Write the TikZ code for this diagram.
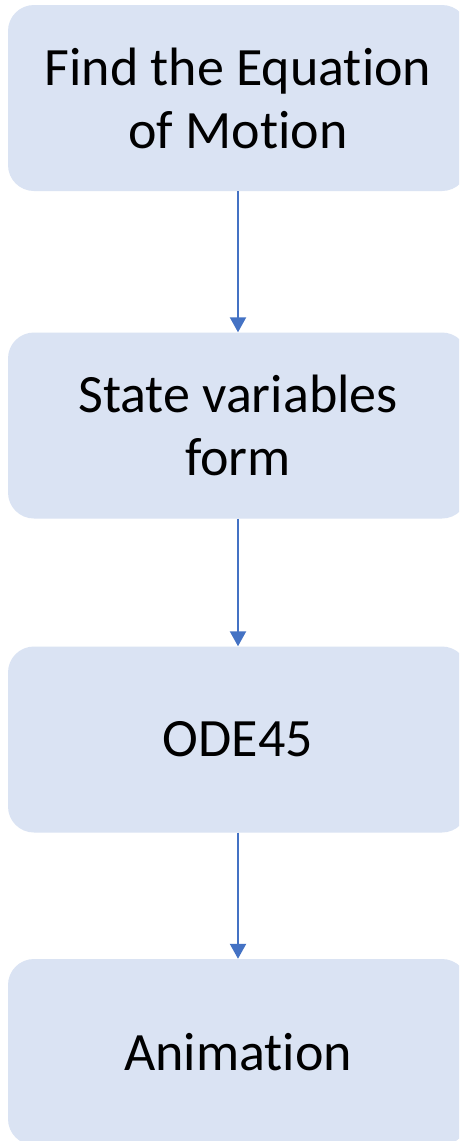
\documentclass[tikz,border=0pt]{standalone}
\usepackage{fontspec}
\setmainfont[Ligatures={NoCommon,NoRare,NoDiscretionary}]{Carlito}
\usetikzlibrary{arrows.meta}
\definecolor{boxfill}{HTML}{DAE3F3}
\definecolor{arrowblue}{HTML}{4472C4}
\begin{document}
\begin{tikzpicture}[x=1pt,y=-1pt,
  stepbox/.style={fill=boxfill, draw=none, rounded corners=26pt, minimum width=460pt, minimum height=186pt, align=center, font=\fontsize{54}{63}\selectfont, inner sep=0pt},
  flow/.style={draw=arrowblue, line width=2.2pt, -{Triangle[width=16pt,length=15pt]}}]
\useasboundingbox (0,0) rectangle (459,1141);
\clip (0,0) rectangle (459,1141);
\fill[white] (0,0) rectangle (459,1141);
\node[stepbox] (a) at (238,98) {Find the Equation\\of Motion};
\node[stepbox] (b) at (238,425.5) {State variables\\form};
\node[stepbox] (c) at (238,739.5) {ODE45};
\node[stepbox] (d) at (238,1052) {Animation};
\draw[flow] (a.south) -- (b.north);
\draw[flow] (b.south) -- (c.north);
\draw[flow] (c.south) -- (d.north);
\end{tikzpicture}
\end{document}
